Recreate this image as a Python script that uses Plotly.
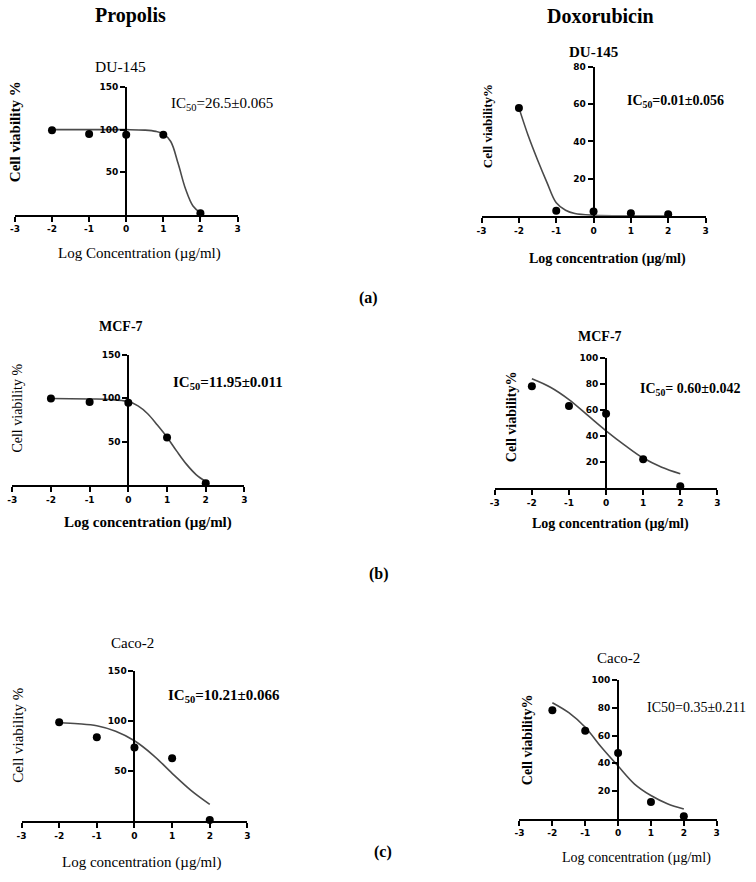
import plotly.graph_objects as go

# ---------------- data ----------------
log_conc = [-2, -1, 0, 1, 2]
x_ticks = [-3, -2, -1, 0, 1, 2, 3]

# Propolis measured points (cell viability %)
du145_prop = [99.2, 94.8, 94.0, 94.0, 1.6]
mcf7_prop = [99.6, 95.4, 94.7, 54.6, 1.9]
caco2_prop = [98.9, 84.0, 73.7, 63.0, 1.3]
# Doxorubicin measured points
du145_dox = [58.0, 2.7, 2.3, 1.4, 0.9]
mcf7_dox = [78.3, 63.0, 57.0, 22.0, 1.3]
caco2_dox = [78.2, 63.4, 47.4, 12.0, 1.7]

# fitted curves
du145_prop_fit_x = [-2, -1, 0, 0.5, 0.8, 1.0, 1.2, 1.4, 1.6, 1.8, 2.0]
du145_prop_fit_y = [100, 100, 100, 99.5, 98, 95, 86, 60, 30, 10, 2]
du145_dox_fit_x = [-2, -1.75, -1.5, -1.25, -1, -0.75, -0.5, 0, 1, 2]
du145_dox_fit_y = [58, 43, 30, 18, 7, 3, 1.2, 0.3, 0, 0]
mcf7_prop_fit_x = [-2, -1, -0.5, 0, 0.25, 0.5, 0.75, 1, 1.25, 1.5, 1.75, 2]
mcf7_prop_fit_y = [99.5, 99, 98.5, 96, 91, 82, 69, 55, 39, 24, 12, 4]
mcf7_dox_fit_x = [-2, -1.5, -1, -0.5, 0, 0.5, 1, 1.5, 2]
mcf7_dox_fit_y = [84, 77.5, 68, 56, 44, 33, 23, 16, 11]
caco2_prop_fit_x = [-2, -1.5, -1, -0.5, 0, 0.5, 1, 1.5, 2]
caco2_prop_fit_y = [98.5, 97.5, 95.5, 90, 80.5, 66, 48, 31, 17]
caco2_dox_fit_x = [-2, -1.5, -1, -0.5, 0, 0.5, 1, 1.5, 2]
caco2_dox_fit_y = [83.7, 76.5, 66, 51.4, 38, 25, 16.7, 10.8, 7]

points = [du145_prop, du145_dox, mcf7_prop, mcf7_dox, caco2_prop, caco2_dox]
fits = [
    (du145_prop_fit_x, du145_prop_fit_y),
    (du145_dox_fit_x, du145_dox_fit_y),
    (mcf7_prop_fit_x, mcf7_prop_fit_y),
    (mcf7_dox_fit_x, mcf7_dox_fit_y),
    (caco2_prop_fit_x, caco2_prop_fit_y),
    (caco2_dox_fit_x, caco2_dox_fit_y),
]
y_max = [150, 80, 150, 100, 150, 100]
y_ticks = [[50, 100, 150], [20, 40, 60, 80], [50, 100, 150],
           [20, 40, 60, 80, 100], [50, 100, 150], [20, 40, 60, 80, 100]]

# ---------------- layout geometry (window pixels) ----------------
W, H = 756, 882


def PX(px):
    return px / W


def PY(py):
    return 1 - py / H


# (x of -3, x of +3, y pixel of 0, y pixel of max)
geom = [
    (10, 235, 210.7, 82.7),
    (481.7, 708, 212, 62.3),
    (7.3, 242, 482.7, 351.7),
    (495, 720, 485.7, 355),
    (16.7, 245, 821, 670),
    (520, 719.3, 818.3, 679),
]

SERIF = "Liberation Serif"
TICKFONT = dict(family="DejaVu Sans", size=9, color="black", weight="bold")
CURVE = "#4a4a4a"

fig = go.Figure()
layout = dict(
    width=W, height=H, autosize=False,
    margin=dict(l=0, r=0, t=0, b=0),
    paper_bgcolor="white", plot_bgcolor="white",
    showlegend=False,
)

for i in range(6):
    n = i + 1
    xs = "" if n == 1 else str(n)
    x0, x1, yb, yt = geom[i]
    dom_x = [max(0.0, PX(x0)), min(1.0, PX(x1))]
    dom_y = [PY(yb), PY(yt)]
    fx, fy = fits[i]
    fig.add_trace(go.Scatter(
        x=fx, y=fy, mode="lines", line=dict(color=CURVE, width=1.6, shape="spline"),
        xaxis="x" + xs, yaxis="y" + xs, hoverinfo="skip", cliponaxis=False))
    fig.add_trace(go.Scatter(
        x=log_conc, y=points[i], mode="markers",
        marker=dict(color="black", size=8),
        xaxis="x" + xs, yaxis="y" + xs, cliponaxis=False))
    layout["xaxis" + xs] = dict(
        domain=dom_x, range=[-3, 3], anchor="y" + xs,
        tickvals=x_ticks, ticktext=[str(v) for v in x_ticks],
        showline=True, linecolor="black", linewidth=2,
        ticks="outside", ticklen=5, tickwidth=2, tickcolor="black",
        tickfont=TICKFONT, showgrid=False, zeroline=False,
    )
    layout["yaxis" + xs] = dict(
        domain=dom_y, range=[0, y_max[i]], anchor="free",
        position=(dom_x[0] + dom_x[1]) / 2,
        tickvals=y_ticks[i], ticktext=[str(v) for v in y_ticks[i]],
        showline=True, linecolor="black", linewidth=2,
        ticks="outside", ticklen=5, tickwidth=2, tickcolor="black",
        tickfont=TICKFONT, showgrid=False, zeroline=False,
    )

fig.update_layout(**layout)


def txt(s, px, py, size, bold=False, angle=0, xanchor="center"):
    fig.add_annotation(
        text=s, x=PX(px), y=PY(py), xref="paper", yref="paper",
        xanchor=xanchor, yanchor="middle", showarrow=False, textangle=angle,
        font=dict(family=SERIF, size=size, color="black",
                  weight="bold" if bold else "normal"))


# column headings
txt("Propolis", 127, 11, 20, bold=True)
txt("Doxorubicin", 602, 11, 20, bold=True)

# panel titles
txt("DU-145", 117, 62, 15.5)
txt("DU-145", 595, 47, 15, bold=True)
txt("MCF-7", 117, 323, 14, bold=True)
txt("MCF-7", 601, 333, 14, bold=True)
txt("Caco-2", 129, 642, 15)
txt("Caco-2", 620, 657, 15)

# IC50 labels
txt("IC<sub>50</sub>=26.5±0.065", 166, 100, 15, xanchor="left")
txt("IC<sub>50</sub>=0.01±0.056", 627, 97, 14, bold=True, xanchor="left")
txt("IC<sub>50</sub>=11.95±0.011", 168, 380, 15, bold=True, xanchor="left")
txt("IC<sub>50</sub>= 0.60±0.042", 640, 387, 14, bold=True, xanchor="left")
txt("IC<sub>50</sub>=10.21±0.066", 163, 695, 15, bold=True, xanchor="left")
txt("IC50=0.35±0.211", 647, 707, 14, xanchor="left")

# y labels
txt("Cell viability %", 10, 127, 15, bold=True, angle=-90)
txt("Cell viability%", 487, 122, 13, bold=True, angle=-90)
txt("Cell viability %", 13, 405, 14, angle=-90)
txt("Cell viability%", 512, 414, 14, bold=True, angle=-90)
txt("Cell viability %", 13, 734, 15, angle=-90)
txt("Cell viability%", 528, 739, 14, bold=True, angle=-90)

# x labels
txt("Log Concentration (µg/ml)", 136, 250, 15)
txt("Log concentration (µg/ml)", 609, 255, 14, bold=True)
txt("Log concentration (µg/ml)", 145, 520, 15, bold=True)
txt("Log concentration (µg/ml)", 612, 522, 14, bold=True)
txt("Log concentration (µg/ml)", 138, 862, 15)
txt("Log concentration (µg/ml)", 638, 858, 14)

# panel letters
txt("(a)", 367, 295, 16, bold=True)
txt("(b)", 378, 572, 16, bold=True)
txt("(c)", 382, 852, 16, bold=True)

# remove the default 8px page margin so the figure fills the window exactly
fig.write_html("out.html",
               config={"displayModeBar": False},
               post_script="document.body.style.margin='0';"
                           "document.documentElement.style.overflow='hidden';")
